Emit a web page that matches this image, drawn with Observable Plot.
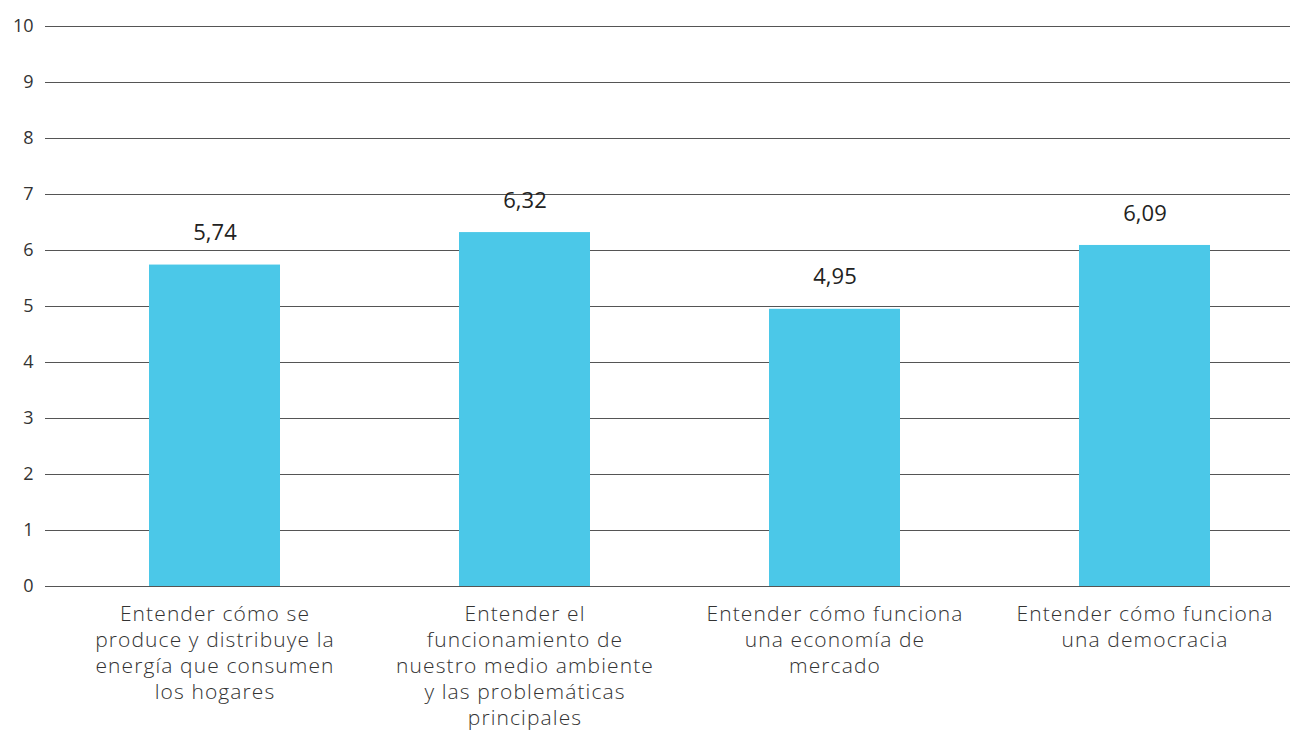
<!DOCTYPE html>
<html>
<head>
<meta charset="utf-8">
<script src="https://cdn.jsdelivr.net/npm/d3@7"></script>
<script src="https://cdn.jsdelivr.net/npm/@observablehq/plot@0.6"></script>
<style>
  html, body { margin: 0; padding: 0; background: #fff; }
  #chart svg { display: block; }
  #chart g[aria-label="x-axis tick label"] text { letter-spacing: 1.1px; }
</style>
</head>
<body>
<div id="chart"></div>
<script>
const categories = [
  "Entender cómo se\nproduce y distribuye la\nenergía que consumen\nlos hogares",
  "Entender el\nfuncionamiento de\nnuestro medio ambiente\ny las problemáticas\nprincipales",
  "Entender cómo funciona\nuna economía de\nmercado",
  "Entender cómo funciona\nuna democracia"
];
const values = [5.74, 6.32, 4.95, 6.09];
const yTicks = [0, 1, 2, 3, 4, 5, 6, 7, 8, 9, 10];

const data = categories.map((c, i) => ({category: c, value: values[i]}));
const fmt = v => v.toFixed(2).replace(".", ",");

const chart = Plot.plot({
  width: 1290,
  height: 739,
  marginTop: 26,
  marginBottom: 153,
  marginLeft: 45,
  marginRight: 0,
  style: {fontFamily: "'Open Sans', sans-serif", fontWeight: 300, color: "#333", background: "#fff"},
  x: {domain: categories, range: [58, 1300], paddingInner: 0.578, paddingOuter: 0.289, label: null},
  y: {domain: [0, 10], label: null},
  marks: [
    Plot.ruleY(yTicks, {stroke: "#555", strokeWidth: 1, strokeOpacity: 1}),
    Plot.barY(data, {x: "category", y: "value", fill: "#4bc8e8"}),
    Plot.text(data, {x: "category", y: "value", text: d => fmt(d.value), dy: -32, fontSize: 22, fontWeight: 400, fill: "#222"}),
    Plot.axisY({ticks: yTicks, tickSize: 0, tickPadding: 12, fontSize: 18, fontWeight: 400, fill: "#333", label: null}),
    Plot.axisX({tickSize: 0, tickPadding: 16, fontSize: 21, lineHeight: 1.24, fill: "#333", label: null, lineAnchor: "top"})
  ]
});
document.getElementById("chart").appendChild(chart);
</script>
</body>
</html>
